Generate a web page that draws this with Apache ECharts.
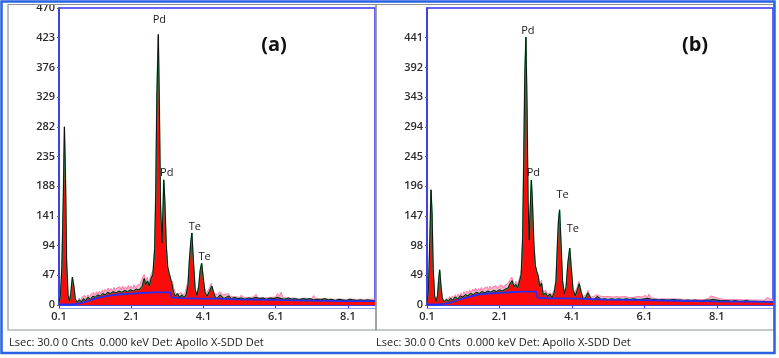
<!DOCTYPE html>
<html>
<head>
<meta charset="utf-8">
<title>EDS spectra</title>
<script src="https://cdn.jsdelivr.net/npm/echarts@6.0.0/dist/echarts.min.js"></script>
<style>
  html, body { margin: 0; padding: 0; background: #fff; }
  #chart { width: 779px; height: 358px; }
</style>
</head>
<body>
<div id="chart"></div>
<script>
// x tick labels (keV), shared by both panels
const ticksX = [0.1, 2.1, 4.1, 6.1, 8.1]

// ---- panel (a) ----
const specA = [
  [0.10, 4], [0.14, 15], [0.18, 60], [0.22, 170], [0.25, 282], [0.28, 200], [0.31, 70], [0.35, 15],
  [0.39, 6], [0.43, 20], [0.47, 44], [0.51, 30], [0.55, 10], [0.60, 4], [0.66, 8], [0.72, 5],
  [0.78, 10], [0.84, 7], [0.90, 12], [0.97, 9], [1.04, 14], [1.10, 12], [1.17, 16], [1.24, 14],
  [1.31, 18], [1.38, 16], [1.45, 20], [1.52, 18], [1.60, 21], [1.68, 19], [1.76, 22], [1.84, 20],
  [1.92, 23], [2.00, 21], [2.08, 24], [2.16, 22], [2.24, 25], [2.32, 24], [2.40, 29], [2.46, 42],
  [2.50, 32], [2.55, 38], [2.60, 30], [2.65, 42], [2.70, 48], [2.75, 90], [2.78, 180], [2.81, 330],
  [2.85, 428], [2.88, 310], [2.91, 160], [2.95, 98], [2.98, 150], [3.00, 198], [3.03, 165], [3.07, 95],
  [3.11, 60], [3.15, 50], [3.18, 52], [3.22, 35], [3.27, 20], [3.32, 14], [3.38, 18], [3.44, 12],
  [3.50, 16], [3.56, 12], [3.62, 16], [3.67, 30], [3.71, 70], [3.75, 100], [3.78, 114], [3.82, 70],
  [3.87, 25], [3.92, 15], [3.97, 30], [4.01, 55], [4.05, 66], [4.09, 45], [4.14, 20], [4.20, 14],
  [4.27, 22], [4.33, 30], [4.38, 20], [4.44, 10], [4.50, 12], [4.56, 16], [4.61, 18], [4.67, 10],
  [4.73, 12], [4.80, 14], [4.88, 10], [4.96, 12], [5.05, 10], [5.15, 11], [5.25, 9], [5.35, 11],
  [5.45, 10], [5.55, 12], [5.65, 10], [5.75, 11], [5.85, 9], [5.95, 11], [6.05, 10], [6.15, 12],
  [6.25, 10], [6.35, 9], [6.45, 11], [6.55, 9], [6.65, 10], [6.75, 8], [6.85, 10], [6.95, 9],
  [7.05, 10], [7.15, 8], [7.25, 9], [7.35, 8], [7.45, 10], [7.55, 8], [7.65, 9], [7.75, 7],
  [7.85, 9], [7.95, 8], [8.05, 7], [8.15, 9], [8.25, 8], [8.35, 7], [8.45, 8], [8.55, 7],
  [8.65, 8], [8.75, 7], [8.85, 7]
]
const backgroundA = [
  [0.10, 1], [0.50, 1], [0.70, 3], [0.90, 6], [1.10, 10], [1.30, 13], [1.50, 15], [1.80, 17],
  [2.10, 18], [2.40, 19], [2.70, 20], [3.18, 20], [3.22, 12], [3.50, 11], [4.00, 10], [4.50, 10],
  [5.00, 9], [6.00, 8], [7.00, 7], [8.00, 6], [8.85, 6]
]
// raw-count fuzz drawn in pink above the spectrum
const noiseA = [
  [0.62, 7], [0.66, 11], [0.70, 6], [0.74, 13], [0.78, 10], [0.82, 15], [0.86, 10], [0.90, 16],
  [0.94, 12], [0.98, 17], [1.02, 14], [1.06, 20], [1.10, 15], [1.14, 21], [1.18, 17], [1.22, 22],
  [1.26, 18], [1.30, 24], [1.34, 19], [1.38, 25], [1.42, 21], [1.46, 27], [1.50, 22], [1.54, 26],
  [1.58, 22], [1.62, 28], [1.66, 23], [1.70, 27], [1.74, 24], [1.78, 29], [1.82, 24], [1.86, 30],
  [1.90, 25], [1.94, 29], [1.98, 25], [2.02, 31], [2.06, 26], [2.10, 30], [2.14, 26], [2.18, 32],
  [2.22, 27], [2.26, 31], [2.30, 28], [2.34, 33], [2.38, 30], [2.42, 44], [2.46, 48], [2.50, 36],
  [2.54, 44], [2.58, 35], [2.62, 42], [2.66, 50], [2.70, 54], [2.71, null],
  [3.24, 38], [3.28, 26], [3.32, 19], [3.36, 22], [3.40, 17], [3.44, 18], [3.48, 20], [3.52, 16],
  [3.56, 17], [3.60, 20], [3.64, 32], [3.65, null],
  [4.14, 26], [4.18, 19], [4.22, 22], [4.27, 27], [4.31, 34], [4.35, 27], [4.40, 18], [4.44, 15],
  [4.48, 17], [4.52, 19], [4.56, 21], [4.60, 23], [4.64, 16], [4.68, 15], [4.72, 17], [4.76, 15],
  [4.80, 18], [4.84, 14], [4.88, 15], [4.92, 13], [4.96, 16], [5.00, 13], [5.05, 15], [5.10, 12],
  [5.15, 16], [5.20, 12], [5.25, 14], [5.30, 12], [5.35, 15], [5.40, 12], [5.45, 14], [5.50, 13],
  [5.55, 17], [5.60, 12], [5.65, 14], [5.70, 12], [5.75, 15], [5.80, 11], [5.85, 13], [5.90, 12],
  [5.95, 14], [6.00, 12], [6.05, 15], [6.10, 13], [6.15, 18], [6.20, 14], [6.25, 20], [6.30, 12],
  [6.35, 13], [6.40, 11], [6.45, 14], [6.50, 11], [6.55, 13], [6.60, 11], [6.65, 13], [6.70, 10],
  [6.75, 12], [6.80, 10], [6.85, 13], [6.90, 11], [6.95, 12], [7.00, 10], [7.05, 13], [7.10, 10],
  [7.15, 15], [7.20, 10], [7.25, 12], [7.30, 10], [7.35, 11], [7.40, 10], [7.45, 13], [7.50, 10],
  [7.55, 11], [7.60, 9], [7.65, 12], [7.70, 9], [7.75, 10], [7.80, 9], [7.85, 12], [7.90, 9],
  [7.95, 11], [8.00, 9], [8.05, 10], [8.10, 9], [8.15, 12], [8.20, 9], [8.25, 10], [8.30, 9],
  [8.35, 10], [8.40, 9], [8.45, 12], [8.50, 9], [8.55, 10], [8.60, 9], [8.65, 11], [8.70, 9],
  [8.75, 10], [8.80, 9], [8.85, 10]
]
const peaksA = [
  { name: 'Pd', keV: 2.85, cnt: 428 },
  { name: 'Pd', keV: 3.00, cnt: 198 },
  { name: 'Te', keV: 3.78, cnt: 114 },
  { name: 'Te', keV: 4.05, cnt: 66 }
]

// ---- panel (b) ----
const specB = [
  [0.10, 4], [0.14, 25], [0.18, 110], [0.21, 190], [0.24, 150], [0.27, 60], [0.31, 15], [0.35, 6],
  [0.39, 15], [0.42, 40], [0.45, 58], [0.48, 35], [0.52, 12], [0.57, 5], [0.63, 9], [0.69, 6],
  [0.75, 11], [0.81, 8], [0.88, 13], [0.95, 10], [1.02, 15], [1.09, 13], [1.16, 17], [1.23, 15],
  [1.30, 19], [1.38, 17], [1.46, 21], [1.54, 19], [1.62, 22], [1.70, 20], [1.78, 23], [1.86, 21],
  [1.94, 24], [2.02, 22], [2.10, 25], [2.18, 23], [2.26, 26], [2.34, 28], [2.40, 36], [2.45, 40],
  [2.50, 30], [2.55, 34], [2.60, 28], [2.65, 38], [2.70, 50], [2.74, 110], [2.77, 240], [2.80, 380],
  [2.83, 442], [2.86, 330], [2.89, 170], [2.92, 107], [2.95, 160], [2.98, 206], [3.01, 170], [3.05, 100],
  [3.09, 65], [3.13, 55], [3.17, 48], [3.21, 30], [3.26, 36], [3.31, 16], [3.37, 20], [3.43, 14],
  [3.49, 18], [3.55, 12], [3.61, 20], [3.66, 40], [3.70, 100], [3.73, 140], [3.76, 157], [3.80, 100],
  [3.84, 40], [3.89, 18], [3.94, 30], [3.99, 70], [4.04, 94], [4.08, 62], [4.13, 25], [4.19, 15],
  [4.25, 25], [4.30, 35], [4.35, 22], [4.41, 10], [4.48, 12], [4.54, 20], [4.59, 14], [4.66, 8],
  [4.73, 10], [4.80, 14], [4.85, 12], [4.91, 9], [5.00, 10], [5.10, 9], [5.20, 10], [5.30, 9],
  [5.40, 10], [5.50, 9], [5.60, 10], [5.70, 9], [5.80, 10], [5.90, 9], [6.00, 9], [6.10, 10],
  [6.20, 11], [6.30, 9], [6.40, 9], [6.50, 8], [6.60, 9], [6.70, 8], [6.80, 8], [6.90, 9],
  [7.00, 8], [7.10, 8], [7.20, 7], [7.30, 8], [7.40, 7], [7.50, 8], [7.60, 7], [7.70, 7],
  [7.80, 8], [7.90, 8], [8.00, 9], [8.10, 8], [8.20, 7], [8.30, 7], [8.40, 7], [8.50, 6],
  [8.60, 7], [8.70, 6], [8.80, 6], [8.90, 7], [9.00, 6], [9.10, 6], [9.20, 6], [9.30, 5],
  [9.40, 6], [9.50, 5], [9.65, 5]
]
const backgroundB = [
  [0.10, 1], [0.45, 1], [0.70, 3], [0.90, 7], [1.10, 11], [1.30, 14], [1.50, 17], [1.80, 19],
  [2.10, 20], [2.40, 21], [2.70, 22], [3.11, 22], [3.15, 12], [3.50, 11], [4.00, 11], [4.50, 10],
  [5.00, 9], [6.00, 8], [7.00, 7], [8.00, 6], [9.65, 5]
]
const noiseB = [
  [0.60, 6], [0.64, 11], [0.68, 7], [0.72, 14], [0.76, 10], [0.80, 15], [0.84, 11], [0.88, 17],
  [0.92, 13], [0.96, 18], [1.00, 14], [1.04, 20], [1.08, 15], [1.12, 22], [1.16, 18], [1.20, 23],
  [1.24, 19], [1.28, 25], [1.32, 20], [1.36, 26], [1.40, 22], [1.44, 28], [1.48, 23], [1.52, 27],
  [1.56, 23], [1.60, 29], [1.64, 24], [1.68, 28], [1.72, 25], [1.76, 30], [1.80, 25], [1.84, 31],
  [1.88, 26], [1.92, 30], [1.96, 27], [2.00, 32], [2.04, 27], [2.08, 31], [2.12, 28], [2.16, 33],
  [2.20, 28], [2.24, 32], [2.28, 30], [2.32, 35], [2.36, 34], [2.40, 42], [2.44, 46], [2.48, 38],
  [2.52, 34], [2.56, 39], [2.60, 33], [2.64, 42], [2.68, 50], [2.70, 56], [2.71, null],
  [3.22, 36], [3.26, 41], [3.30, 22], [3.34, 19], [3.38, 24], [3.42, 18], [3.46, 21], [3.50, 20],
  [3.54, 16], [3.58, 18], [3.62, 26], [3.63, null],
  [4.12, 29], [4.16, 20], [4.20, 19], [4.24, 28], [4.29, 39], [4.33, 30], [4.38, 18], [4.42, 14],
  [4.46, 16], [4.50, 18], [4.54, 24], [4.58, 19], [4.62, 13], [4.66, 12], [4.70, 14], [4.74, 13],
  [4.78, 17], [4.82, 18], [4.86, 15], [4.90, 12], [4.94, 14], [4.98, 12], [5.03, 14], [5.08, 11],
  [5.13, 14], [5.18, 11], [5.23, 13], [5.28, 11], [5.33, 14], [5.38, 11], [5.43, 13], [5.48, 11],
  [5.53, 14], [5.58, 11], [5.63, 13], [5.68, 11], [5.73, 12], [5.78, 10], [5.83, 13], [5.88, 11],
  [5.93, 14], [5.98, 11], [6.03, 13], [6.08, 12], [6.13, 16], [6.18, 12], [6.23, 18], [6.28, 12],
  [6.33, 14], [6.38, 11], [6.43, 13], [6.48, 10], [6.53, 12], [6.58, 10], [6.63, 13], [6.68, 10],
  [6.73, 12], [6.78, 10], [6.83, 11], [6.88, 10], [6.93, 13], [6.98, 10], [7.03, 12], [7.08, 10],
  [7.13, 12], [7.18, 9], [7.23, 11], [7.28, 9], [7.33, 11], [7.38, 9], [7.43, 10], [7.48, 9],
  [7.53, 11], [7.58, 9], [7.63, 10], [7.68, 9], [7.73, 11], [7.78, 9], [7.83, 12], [7.88, 11],
  [7.93, 15], [7.98, 18], [8.03, 13], [8.08, 15], [8.13, 11], [8.18, 12], [8.23, 10], [8.28, 12],
  [8.33, 9], [8.38, 11], [8.43, 9], [8.48, 10], [8.53, 9], [8.58, 11], [8.63, 9], [8.68, 12],
  [8.73, 9], [8.78, 10], [8.83, 8], [8.88, 10], [8.93, 9], [8.98, 11], [9.03, 8], [9.08, 10],
  [9.13, 8], [9.18, 9], [9.23, 8], [9.28, 10], [9.33, 8], [9.38, 9], [9.43, 8], [9.48, 12],
  [9.53, 9], [9.58, 10], [9.65, 9]
]
const peaksB = [
  { name: 'Pd', keV: 2.83, cnt: 442 },
  { name: 'Pd', keV: 2.98, cnt: 206 },
  { name: 'Te', keV: 3.76, cnt: 157 },
  { name: 'Te', keV: 4.04, cnt: 94 }
]

const footer = 'Lsec: 30.0 0 Cnts  0.000 keV Det: Apollo X-SDD Det'

const chart = echarts.init(document.getElementById('chart'))
const blue = '#3434ee'
const font = '"Open Sans", "Liberation Sans", sans-serif'

// label offsets in px from each peak top
const offsetsA = [[1, -15], [3, -7], [3, -6], [3, -6]]
const offsetsB = [[2, -6], [2, -7], [3, -15], [3, -19]]

function xAxes(idx, max) {
  return [{
    type: 'value', gridIndex: idx, min: 0.1, max,
    axisLine: { show: true, onZero: false, lineStyle: { color: blue, width: 1.5 } },
    axisTick: { show: true, customValues: ticksX, length: 3, lineStyle: { color: blue } },
    axisLabel: {
      customValues: ticksX, formatter: v => v.toFixed(1),
      fontFamily: font, fontSize: 11, fontWeight: 600, color: '#2a2a2a', margin: 6
    },
    splitLine: { show: false }
  }, {
    type: 'value', gridIndex: idx, min: 0.1, max, position: 'bottom', offset: 3,
    axisLine: { show: true, onZero: false, lineStyle: { color: '#8e9cf2', width: 1 } },
    axisTick: { show: false }, axisLabel: { show: false }, splitLine: { show: false }
  }]
}

function yAxis(idx, max, step, showMax) {
  return {
    type: 'value', gridIndex: idx, min: 0, max, interval: step,
    axisLine: { show: true, lineStyle: { color: blue, width: 1.5 } },
    axisTick: { show: true, length: 2, lineStyle: { color: '#666' } },
    axisLabel: {
      showMaxLabel: showMax, fontFamily: font, fontSize: 11, fontWeight: 600,
      color: '#2a2a2a', margin: 4
    },
    splitLine: { show: false }
  }
}

function panelSeries(xi, yi, spec, bg, noise, peaks, offs) {
  return [
    {
      type: 'line', xAxisIndex: xi, yAxisIndex: yi, data: noise, symbol: 'none',
      connectNulls: false, lineStyle: { color: '#ff7aa6', width: 1 },
      areaStyle: { color: '#ffb3cb', opacity: 1 }, z: 1, silent: true
    },
    {
      type: 'line', xAxisIndex: xi, yAxisIndex: yi, data: spec, symbol: 'none',
      lineStyle: { color: '#25b565', width: 1.4 },
      areaStyle: { color: '#ff0a0a', opacity: 1 }, z: 2, silent: true
    },
    {
      type: 'line', xAxisIndex: xi, yAxisIndex: yi, data: spec, symbol: 'none',
      lineStyle: { color: '#111', width: 1 }, z: 3, silent: true,
      markPoint: {
        symbol: 'circle', symbolSize: 1, itemStyle: { color: 'rgba(0,0,0,0)' },
        label: { show: true, position: 'inside', formatter: p => p.name, color: '#1a1a1a', fontFamily: font, fontSize: 11 },
        data: peaks.map((p, i) => ({ name: p.name, coord: [p.keV, p.cnt], label: { offset: offs[i] } }))
      }
    },
    {
      type: 'line', xAxisIndex: xi, yAxisIndex: yi, data: bg, symbol: 'none',
      lineStyle: { color: '#2430f0', width: 1.8 }, z: 4, silent: true
    }
  ]
}

const option = {
  animation: false,
  backgroundColor: '#fff',
  grid: [
    { left: 59, top: 8, width: 316, height: 297, show: true, borderColor: blue, borderWidth: 1.5, backgroundColor: '#fff' },
    { left: 427, top: 8, width: 346, height: 297, show: true, borderColor: blue, borderWidth: 1.5, backgroundColor: '#fff' }
  ],
  xAxis: [...xAxes(0, 8.85), ...xAxes(1, 9.65)],
  yAxis: [yAxis(0, 470, 47, true), yAxis(1, 490, 49, false)],
  series: [
    ...panelSeries(0, 0, specA, backgroundA, noiseA, peaksA, offsetsA),
    ...panelSeries(2, 1, specB, backgroundB, noiseB, peaksB, offsetsB)
  ],
  graphic: [
    { type: 'rect', z: 100, shape: { x: 9, y: 0, width: 49, height: 4.5 }, style: { fill: '#fff' } },
    { type: 'rect', z: 101, shape: { x: 8, y: 4.5, width: 368, height: 325.5 }, style: { fill: null, stroke: '#8d9393', lineWidth: 1.2 } },
    { type: 'rect', z: 101, shape: { x: 376, y: 4.5, width: 398, height: 325.5 }, style: { fill: null, stroke: '#8d9393', lineWidth: 1.2 } },
    { type: 'rect', z: 102, shape: { x: 1.5, y: 1.5, width: 773, height: 351.5 }, style: { fill: null, stroke: '#2a62e2', lineWidth: 2.5 } },
    { type: 'text', z: 103, x: 274, y: 45, style: { text: '(a)', font: 'bold 20px ' + font, fill: '#111', textAlign: 'center', textVerticalAlign: 'middle' } },
    { type: 'text', z: 103, x: 695, y: 45, style: { text: '(b)', font: 'bold 20px ' + font, fill: '#111', textAlign: 'center', textVerticalAlign: 'middle' } },
    { type: 'text', z: 103, x: 9, y: 343, style: { text: footer, font: '11px ' + font, fill: '#1a1a1a', textVerticalAlign: 'middle' } },
    { type: 'text', z: 103, x: 376, y: 343, style: { text: footer, font: '11px ' + font, fill: '#1a1a1a', textVerticalAlign: 'middle' } }
  ]
}

chart.setOption(option)
window.onresize = () => {
  chart.resize()
}
</script>
</body>
</html>
